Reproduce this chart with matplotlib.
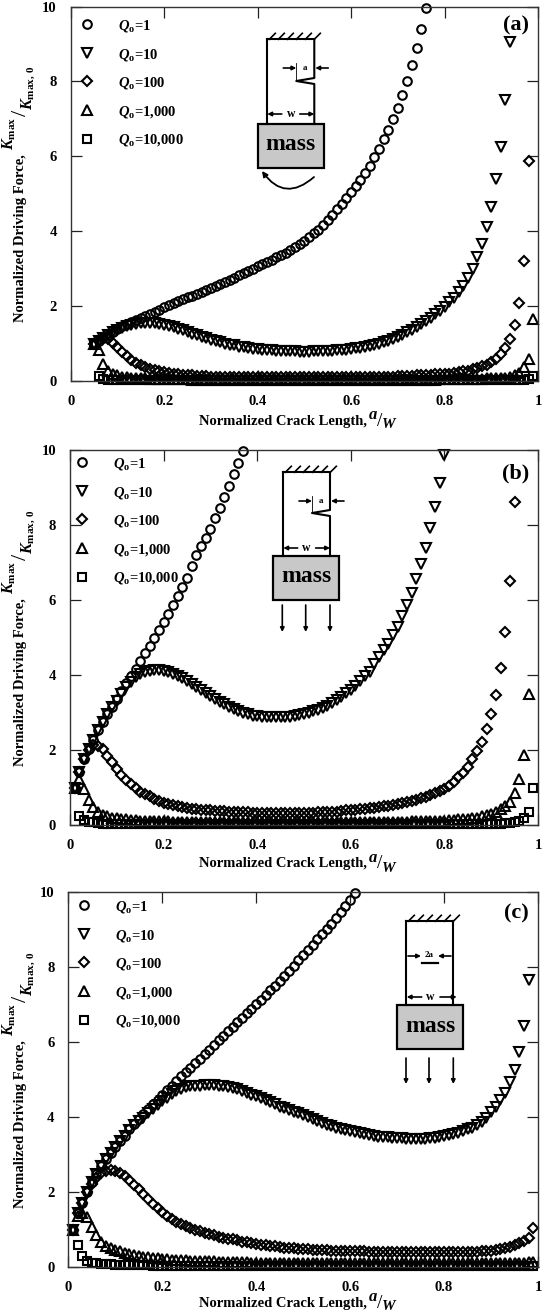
import matplotlib
matplotlib.use("Agg")
import matplotlib.pyplot as plt
import matplotlib.patches as patches

plt.rcParams['font.family'] = ['Liberation Serif', 'DejaVu Serif']
plt.rcParams['font.weight'] = 'bold'
plt.rcParams['axes.labelweight'] = 'bold'
plt.rcParams['mathtext.fontset'] = 'custom'
plt.rcParams['mathtext.rm'] = 'Liberation Serif:bold'
plt.rcParams['mathtext.it'] = 'Liberation Serif:italic:bold'
plt.rcParams['mathtext.bf'] = 'Liberation Serif:bold'

W, H = 544, 1316

crack_x = [0.01, 0.02, 0.03, 0.04, 0.05, 0.06, 0.07, 0.08, 0.09,
           0.10, 0.11, 0.12, 0.13, 0.14, 0.15, 0.16, 0.17, 0.18, 0.19,
           0.20, 0.21, 0.22, 0.23, 0.24, 0.25, 0.26, 0.27, 0.28, 0.29,
           0.30, 0.31, 0.32, 0.33, 0.34, 0.35, 0.36, 0.37, 0.38, 0.39,
           0.40, 0.41, 0.42, 0.43, 0.44, 0.45, 0.46, 0.47, 0.48, 0.49,
           0.50, 0.51, 0.52, 0.53, 0.54, 0.55, 0.56, 0.57, 0.58, 0.59,
           0.60, 0.61, 0.62, 0.63, 0.64, 0.65, 0.66, 0.67, 0.68, 0.69,
           0.70, 0.71, 0.72, 0.73, 0.74, 0.75, 0.76, 0.77, 0.78, 0.79,
           0.80, 0.81, 0.82, 0.83, 0.84, 0.85, 0.86, 0.87, 0.88, 0.89,
           0.90, 0.91, 0.92, 0.93, 0.94, 0.95, 0.96, 0.97, 0.98, 0.99]

q_labels = ['1', '10', '100', '1,000', '10,000']

# panel a starts at a/W = 0.05, lines below run per decade of a/W
a_q1 = [1.00, 1.08, 1.16, 1.24, 1.32,
        1.40, 1.46, 1.52, 1.58, 1.63, 1.69, 1.74, 1.79, 1.84, 1.90,
        1.97, 2.03, 2.08, 2.13, 2.18, 2.23, 2.28, 2.33, 2.38, 2.43,
        2.49, 2.54, 2.59, 2.64, 2.70, 2.76, 2.82, 2.88, 2.94, 3.00,
        3.06, 3.12, 3.18, 3.24, 3.30, 3.36, 3.43, 3.50, 3.58, 3.66,
        3.75, 3.84, 3.94, 4.04, 4.16, 4.30, 4.44, 4.58, 4.73, 4.89,
        5.05, 5.22, 5.38, 5.55, 5.75, 5.97, 6.20, 6.45, 6.70, 7.00,
        7.30, 7.65, 8.00, 8.45, 8.90, 9.40, 9.95]
a_q10 = [1.00, 1.08, 1.16, 1.23, 1.30,
         1.36, 1.41, 1.46, 1.50, 1.53, 1.55, 1.56, 1.56, 1.55, 1.53,
         1.50, 1.47, 1.43, 1.39, 1.35, 1.30, 1.26, 1.22, 1.18, 1.14,
         1.10, 1.07, 1.03, 1.00, 0.97, 0.95, 0.92, 0.90, 0.88, 0.86,
         0.85, 0.84, 0.83, 0.82, 0.81, 0.80, 0.80, 0.79, 0.79, 0.78,
         0.78, 0.78, 0.79, 0.79, 0.80, 0.80, 0.81, 0.82, 0.83, 0.84,
         0.85, 0.87, 0.89, 0.91, 0.94, 0.97, 1.00, 1.04, 1.08, 1.13,
         1.18, 1.24, 1.30, 1.37, 1.44, 1.52, 1.60, 1.68, 1.78, 1.88,
         1.98, 2.10, 2.22, 2.38, 2.55, 2.75, 3.00, 3.30, 3.65, 4.10,
         4.65, 5.40, 6.25, 7.50, 9.05]
a_q100 = [1.00, 1.08, 1.14, 1.12, 1.02,
          0.90, 0.77, 0.66, 0.57, 0.49, 0.43, 0.38, 0.33, 0.30, 0.27,
          0.24, 0.22, 0.20, 0.18, 0.17, 0.16, 0.15, 0.14, 0.13, 0.125,
          0.12, 0.12, 0.11, 0.11, 0.11, 0.10, 0.10, 0.10, 0.10, 0.10,
          0.10, 0.10, 0.10, 0.10, 0.10, 0.10, 0.10, 0.10, 0.10, 0.10,
          0.10, 0.10, 0.10, 0.10, 0.10, 0.10, 0.10, 0.10, 0.10, 0.10,
          0.10, 0.10, 0.10, 0.11, 0.11, 0.11, 0.11, 0.12, 0.12, 0.12,
          0.13, 0.13, 0.14, 0.14, 0.15, 0.16, 0.16, 0.17, 0.18, 0.18,
          0.19, 0.20, 0.22, 0.24, 0.26, 0.28, 0.31, 0.35, 0.39, 0.44,
          0.50, 0.60, 0.72, 0.87, 1.12, 1.49, 2.07, 3.20, 5.87]
a_q1000 = [1.00, 0.82, 0.45, 0.28, 0.20,
           0.15, 0.12, 0.10, 0.09, 0.08, 0.07, 0.07, 0.06, 0.06, 0.06,
           0.05, 0.05, 0.05, 0.05, 0.05, 0.05, 0.04, 0.04, 0.04, 0.04,
           0.04, 0.04, 0.04, 0.04, 0.04, 0.04, 0.04, 0.04, 0.04, 0.04,
           0.04, 0.04, 0.04, 0.04, 0.04, 0.04, 0.04, 0.04, 0.04, 0.04,
           0.04, 0.04, 0.04, 0.04, 0.04, 0.04, 0.04, 0.04, 0.04, 0.04,
           0.04, 0.04, 0.04, 0.04, 0.04, 0.04, 0.04, 0.04, 0.04, 0.04,
           0.04, 0.04, 0.04, 0.04, 0.04, 0.04, 0.04, 0.04, 0.04, 0.05,
           0.05, 0.05, 0.05, 0.05, 0.05, 0.05, 0.06, 0.06, 0.06, 0.07,
           0.07, 0.07, 0.08, 0.09, 0.11, 0.15, 0.22, 0.38, 0.60, 1.65]
a_q10000 = [1.00, 0.13, 0.05, 0.04, 0.03,
            0.03, 0.03, 0.02, 0.02, 0.02, 0.02, 0.02, 0.02, 0.02, 0.02,
            0.02, 0.02, 0.02, 0.02, 0.02, 0.02, 0.02, 0.02, 0.02, 0.02,
            0.02, 0.02, 0.02, 0.02, 0.02, 0.02, 0.02, 0.02, 0.02, 0.02,
            0.02, 0.02, 0.02, 0.02, 0.02, 0.02, 0.02, 0.02, 0.02, 0.02,
            0.02, 0.02, 0.02, 0.02, 0.02, 0.02, 0.02, 0.02, 0.02, 0.02,
            0.02, 0.02, 0.02, 0.02, 0.02, 0.02, 0.02, 0.02, 0.02, 0.02,
            0.02, 0.02, 0.02, 0.02, 0.02, 0.02, 0.02, 0.02, 0.02, 0.02,
            0.02, 0.02, 0.02, 0.02, 0.02, 0.02, 0.02, 0.02, 0.02, 0.02,
            0.02, 0.02, 0.02, 0.02, 0.02, 0.03, 0.03, 0.04, 0.06, 0.13]

# panels b and c start at a/W = 0.01
b_q1 = [1.00, 1.42, 1.75, 2.04, 2.28, 2.53, 2.75, 2.96, 3.16,
        3.37, 3.58, 3.78, 3.97, 4.16, 4.37, 4.58, 4.77, 5.00, 5.20,
        5.41, 5.63, 5.86, 6.10, 6.35, 6.60, 6.90, 7.20, 7.45, 7.65,
        7.90, 8.20, 8.45, 8.75, 9.05, 9.35, 9.65, 9.98]
b_q10 = [1.00, 1.42, 1.75, 2.04, 2.28, 2.53, 2.75, 2.96, 3.16,
         3.32, 3.50, 3.68, 3.82, 3.94, 4.03, 4.08, 4.11, 4.13, 4.13,
         4.12, 4.08, 4.04, 3.98, 3.91, 3.84, 3.76, 3.68, 3.60, 3.52,
         3.44, 3.36, 3.29, 3.22, 3.15, 3.09, 3.04, 2.99, 2.95, 2.92,
         2.90, 2.88, 2.87, 2.87, 2.87, 2.87, 2.88, 2.89, 2.91, 2.93,
         2.96, 2.99, 3.03, 3.07, 3.12, 3.17, 3.25, 3.33, 3.42, 3.51,
         3.60, 3.72, 3.85, 3.97, 4.09, 4.29, 4.49, 4.66, 4.84, 5.07,
         5.29, 5.57, 5.87, 6.18, 6.55, 6.95, 7.40, 7.91, 8.49, 9.13,
         9.87]
b_q100 = [1.00, 1.42, 1.75, 2.00, 2.13, 2.10, 2.03, 1.84, 1.67,
          1.49, 1.33, 1.20, 1.09, 0.98, 0.89, 0.83, 0.77, 0.70, 0.64,
          0.60, 0.56, 0.53, 0.50, 0.48, 0.45, 0.44, 0.42, 0.41, 0.40,
          0.39, 0.38, 0.37, 0.37, 0.36, 0.35, 0.35, 0.34, 0.34, 0.33,
          0.33, 0.33, 0.33, 0.33, 0.33, 0.33, 0.33, 0.33, 0.33, 0.33,
          0.33, 0.33, 0.33, 0.34, 0.34, 0.34, 0.35, 0.36, 0.37, 0.39,
          0.40, 0.41, 0.42, 0.43, 0.45, 0.46, 0.48, 0.50, 0.52, 0.54,
          0.57, 0.59, 0.62, 0.65, 0.68, 0.72, 0.76, 0.81, 0.86, 0.91,
          0.96, 1.03, 1.16, 1.27, 1.38, 1.55, 1.75, 1.97, 2.22, 2.55,
          2.96, 3.48, 4.18, 5.15, 6.51, 8.62]
b_q1000 = [1.00, 1.24, 0.96, 0.67, 0.47, 0.35, 0.28, 0.23, 0.20,
           0.18, 0.16, 0.15, 0.14, 0.13, 0.12, 0.12, 0.11, 0.11, 0.10,
           0.10, 0.10, 0.09, 0.09, 0.09, 0.09, 0.09, 0.08, 0.08, 0.08,
           0.08, 0.08, 0.08, 0.08, 0.08, 0.08, 0.08, 0.08, 0.08, 0.08,
           0.08, 0.08, 0.08, 0.08, 0.08, 0.08, 0.08, 0.08, 0.08, 0.08,
           0.08, 0.08, 0.08, 0.08, 0.08, 0.08, 0.08, 0.08, 0.08, 0.08,
           0.08, 0.08, 0.08, 0.08, 0.08, 0.09, 0.09, 0.09, 0.09, 0.09,
           0.09, 0.09, 0.09, 0.10, 0.10, 0.10, 0.10, 0.11, 0.11, 0.12,
           0.12, 0.13, 0.14, 0.15, 0.16, 0.17, 0.18, 0.20, 0.23, 0.26,
           0.30, 0.36, 0.42, 0.50, 0.62, 0.86, 1.24, 1.88, 3.49]
b_q10000 = [1.00, 0.24, 0.13, 0.09, 0.07, 0.05, 0.04, 0.04, 0.03,
            0.03, 0.03, 0.03, 0.03, 0.03, 0.03, 0.03, 0.03, 0.03, 0.03,
            0.03, 0.03, 0.03, 0.03, 0.03, 0.03, 0.03, 0.03, 0.03, 0.03,
            0.03, 0.03, 0.03, 0.03, 0.03, 0.03, 0.03, 0.03, 0.03, 0.03,
            0.03, 0.03, 0.03, 0.03, 0.03, 0.03, 0.03, 0.03, 0.03, 0.03,
            0.03, 0.03, 0.03, 0.03, 0.03, 0.03, 0.03, 0.03, 0.03, 0.03,
            0.03, 0.03, 0.03, 0.03, 0.03, 0.03, 0.03, 0.03, 0.03, 0.03,
            0.03, 0.03, 0.03, 0.03, 0.03, 0.03, 0.03, 0.03, 0.03, 0.03,
            0.03, 0.03, 0.03, 0.03, 0.03, 0.03, 0.03, 0.03, 0.03, 0.03,
            0.04, 0.04, 0.04, 0.05, 0.06, 0.07, 0.12, 0.20, 0.35, 1.00]

c_q1 = [1.00, 1.43, 1.72, 2.00, 2.26, 2.47, 2.69, 2.87, 3.03,
        3.21, 3.36, 3.50, 3.67, 3.81, 3.94, 4.08, 4.21, 4.35, 4.45,
        4.59, 4.72, 4.83, 4.97, 5.10, 5.21, 5.32, 5.43, 5.55, 5.68,
        5.80, 5.92, 6.05, 6.17, 6.29, 6.41, 6.53, 6.65, 6.77, 6.89,
        7.01, 7.13, 7.25, 7.38, 7.50, 7.63, 7.76, 7.90, 8.04, 8.18,
        8.32, 8.46, 8.60, 8.74, 8.88, 9.02, 9.16, 9.31, 9.47, 9.63,
        9.79, 9.97]
c_q10 = [1.00, 1.43, 1.72, 2.00, 2.26, 2.47, 2.69, 2.87, 3.03,
         3.21, 3.36, 3.50, 3.65, 3.78, 3.89, 3.98, 4.10, 4.22, 4.33,
         4.43, 4.52, 4.62, 4.70, 4.76, 4.79, 4.82, 4.83, 4.84, 4.85,
         4.85, 4.85, 4.84, 4.83, 4.81, 4.78, 4.74, 4.70, 4.65, 4.60,
         4.56, 4.50, 4.45, 4.39, 4.34, 4.28, 4.23, 4.18, 4.14, 4.10,
         4.05, 4.00, 3.95, 3.90, 3.85, 3.80, 3.76, 3.72, 3.68, 3.65,
         3.63, 3.60, 3.57, 3.54, 3.52, 3.50, 3.48, 3.47, 3.46, 3.45,
         3.43, 3.43, 3.42, 3.42, 3.41, 3.42, 3.42, 3.44, 3.45, 3.47,
         3.50, 3.52, 3.54, 3.58, 3.62, 3.67, 3.72, 3.78, 3.88, 3.98,
         4.14, 4.27, 4.45, 4.65, 4.93, 5.25, 5.73, 6.43, 7.65]
c_q100 = [1.00, 1.43, 1.72, 2.00, 2.22, 2.38, 2.50, 2.56, 2.60,
          2.57, 2.50, 2.42, 2.32, 2.20, 2.08, 1.95, 1.81, 1.69, 1.57,
          1.47, 1.37, 1.29, 1.21, 1.15, 1.09, 1.03, 0.99, 0.96, 0.92,
          0.88, 0.85, 0.81, 0.78, 0.76, 0.74, 0.71, 0.68, 0.66, 0.64,
          0.61, 0.59, 0.58, 0.56, 0.55, 0.53, 0.52, 0.51, 0.50, 0.48,
          0.47, 0.47, 0.46, 0.46, 0.45, 0.45, 0.44, 0.44, 0.44, 0.43,
          0.43, 0.42, 0.42, 0.42, 0.41, 0.41, 0.41, 0.40, 0.40, 0.40,
          0.39, 0.39, 0.39, 0.39, 0.39, 0.39, 0.40, 0.40, 0.40, 0.40,
          0.40, 0.40, 0.40, 0.40, 0.40, 0.41, 0.41, 0.41, 0.42, 0.43,
          0.44, 0.45, 0.47, 0.50, 0.53, 0.58, 0.63, 0.70, 0.78, 1.05]
c_q1000 = [1.00, 1.37, 1.43, 1.33, 1.07, 0.85, 0.67, 0.57, 0.50,
           0.46, 0.42, 0.37, 0.34, 0.32, 0.30, 0.28, 0.26, 0.25, 0.23,
           0.22, 0.21, 0.20, 0.19, 0.18, 0.18, 0.17, 0.17, 0.16, 0.16,
           0.15, 0.15, 0.14, 0.14, 0.14, 0.13, 0.13, 0.13, 0.13, 0.12,
           0.12, 0.12, 0.12, 0.12, 0.12, 0.11, 0.11, 0.11, 0.11, 0.11,
           0.11, 0.11, 0.11, 0.11, 0.11, 0.11, 0.11, 0.11, 0.11, 0.11,
           0.11, 0.11, 0.11, 0.11, 0.11, 0.11, 0.11, 0.11, 0.11, 0.11,
           0.11, 0.11, 0.11, 0.11, 0.11, 0.11, 0.11, 0.11, 0.11, 0.11,
           0.11, 0.11, 0.11, 0.11, 0.11, 0.11, 0.11, 0.11, 0.11, 0.11,
           0.11, 0.11, 0.11, 0.11, 0.11, 0.11, 0.12, 0.12, 0.13, 0.14]
c_q10000 = [1.00, 0.59, 0.29, 0.17, 0.12, 0.10, 0.08, 0.07, 0.07,
            0.06, 0.06, 0.06, 0.05, 0.05, 0.05, 0.05, 0.05, 0.04, 0.04,
            0.04, 0.04, 0.04, 0.04, 0.04, 0.04, 0.04, 0.03, 0.03, 0.03,
            0.03, 0.03, 0.03, 0.03, 0.03, 0.03, 0.03, 0.03, 0.03, 0.03,
            0.03, 0.03, 0.03, 0.03, 0.03, 0.03, 0.03, 0.03, 0.03, 0.03,
            0.03, 0.03, 0.03, 0.03, 0.03, 0.03, 0.03, 0.03, 0.03, 0.03,
            0.03, 0.03, 0.03, 0.03, 0.03, 0.03, 0.03, 0.03, 0.03, 0.03,
            0.03, 0.03, 0.03, 0.03, 0.03, 0.03, 0.03, 0.03, 0.03, 0.03,
            0.03, 0.03, 0.03, 0.03, 0.03, 0.03, 0.03, 0.03, 0.03, 0.03,
            0.03, 0.03, 0.03, 0.03, 0.03, 0.03, 0.03, 0.03, 0.03, 0.03]

markers = ['o', 'v', 'D', '^', 's']
sizes = [6.2, 6.8, 5.0, 6.8, 5.8]


def draw_panel(fig, box, x, series, tag, tag_xy, legend_xy, xlabel_y):
    """ Draws one panel from its series, box is left, right, top, bottom in pixels. """
    left, right, top, bottom = box
    ax = fig.add_axes([left / W, 1 - bottom / H, (right - left) / W, (bottom - top) / H])
    for y, m, s, q in zip(series, markers, sizes, q_labels):
        ax.plot(x[:len(y)], y, ls='none', marker=m, ms=s, mfc='none', mec='black',
                mew=1.5, clip_on=False, label=r'$\mathit{Q}_{\mathrm{o}}$=' + q)
    ax.set_xlim(0, 1)
    ax.set_ylim(0, 10)
    ax.set_xticks([0, 0.2, 0.4, 0.6, 0.8, 1])
    ax.set_xticklabels(['0', '0.2', '0.4', '0.6', '0.8', '1'])
    ax.set_yticks([0, 2, 4, 6, 8, 10])
    ax.tick_params(direction='in', length=8, width=0.9, top=True, right=True, color='#222222',
                   labelsize=10.5, pad=10)
    for s in ax.spines.values():
        s.set_linewidth(1.0)
        s.set_color('#333333')
    ax.set_xlabel('Normalized Crack Length,', fontsize=10.5, va='center')
    ax.xaxis.set_label_coords((283 - left) / (right - left), -(xlabel_y - bottom) / (bottom - top))
    ax.legend(loc='upper left', bbox_to_anchor=(legend_xy[0] / W, 1 - legend_xy[1] / H),
              bbox_transform=fig.transFigure, frameon=False, fontsize=10.5, numpoints=1,
              handlelength=1, handletextpad=1.6, labelspacing=0.86, borderpad=0, borderaxespad=0)
    fig.text(tag_xy[0] / W, 1 - tag_xy[1] / H, tag, fontsize=16, ha='center', va='center')


def draw_ylabel(over, dy):
    over.text(21, 238 + dy, 'Normalized Driving Force,', rotation=90, fontsize=10.5,
              ha='center', va='center')
    over.text(9, 133 + dy, r'$\mathit{K}_{\mathrm{max}}$', rotation=90, fontsize=11.5,
              ha='center', va='center')
    over.text(21, 113 + dy, '/', rotation=90, fontsize=16, fontweight='normal',
              ha='center', va='center')
    over.text(28, 88 + dy, r'$\mathit{K}_{\mathrm{max,\,0}}$', rotation=90, fontsize=11.5,
              ha='center', va='center')


def draw_ratio(over, x0, y0):
    """ The a/W part of the x label, stacked like the y label. """
    over.text(x0 + 1, y0 - 6, 'a', fontsize=12, style='italic', ha='center', va='center')
    over.text(x0 + 8, y0, '/', fontsize=14, fontweight='normal', ha='center', va='center')
    over.text(x0 + 17, y0 + 4, 'W', fontsize=11, style='italic', ha='center', va='center')


def arrow(over, p0, p1, lw=1.2, style='-|>', scale=6):
    over.add_patch(patches.FancyArrowPatch(p0, p1, arrowstyle=style, mutation_scale=scale,
                                           lw=lw, color='black', shrinkA=0, shrinkB=0))


def specimen(over, l, r, top, bottom, box_l, box_r, box_b):
    """ Common part of the sketches: clamped column and the mass block. """
    over.plot([l, r], [top, top], color='black', lw=1.5)
    for hx in [l + 2, l + 11, l + 20, l + 29, l + 38, l + 47]:
        over.plot([hx, hx + 6], [top, top - 6], color='black', lw=1.2)
    over.plot([l, l], [top, bottom], color='black', lw=1.5)
    over.add_patch(patches.Rectangle((box_l, bottom), box_r - box_l, box_b - bottom,
                                     fc='#c8c8c8', ec='black', lw=1.6))
    over.text((box_l + box_r) / 2, (bottom + box_b) / 2 - 1, 'mass', fontsize=17, ha='center', va='center')


def edge_notch(over, l, r, top, bottom, y0, y1, y2, ya, yw):
    over.plot([r, r, r - 18, r, r], [top, y0, y1, y2, bottom], color='black', lw=1.5)
    over.plot([r - 18, r - 18], [ya - 5, y1], color='black', lw=0.6)
    over.text(r - 9, ya, 'a', fontsize=6.5, ha='center', va='center')
    arrow(over, (r - 31, ya), (r - 18, ya))
    arrow(over, (r + 14, ya), (r + 1, ya))
    over.text((l + r) / 2, yw, 'w', fontsize=8.5, ha='center', va='center')
    arrow(over, ((l + r) / 2 - 9, yw), (l, yw))
    arrow(over, ((l + r) / 2 + 9, yw), (r, yw))


fig = plt.figure(figsize=(W / 100, H / 100), dpi=100)

draw_panel(fig, (70.7, 538, 6.5, 381), crack_x[4:], [a_q1, a_q10, a_q100, a_q1000, a_q10000],
           '(a)', (516, 25), (80, 18), 421)
draw_panel(fig, (70, 538, 450, 825), crack_x, [b_q1, b_q10, b_q100, b_q1000, b_q10000],
           '(b)', (516, 473), (75, 456), 864)
draw_panel(fig, (68.3, 538, 892, 1267), crack_x, [c_q1, c_q10, c_q100, c_q1000, c_q10000],
           '(c)', (516, 913), (77, 899), 1304)

# pixel overlay for the sketches and the stacked labels
over = fig.add_axes([0, 0, 1, 1], facecolor='none')
over.set_xlim(0, W)
over.set_ylim(H, 0)
over.axis('off')

for dy in [0, 444, 886]:
    draw_ylabel(over, dy)
for ry in [421, 864, 1303]:
    draw_ratio(over, 372, ry)

# sketch a, bending
specimen(over, 267.3, 314.3, 39.3, 124, 257.7, 323.7, 167.7)
edge_notch(over, 267.3, 314.3, 39.3, 124, 78, 81, 84, 68, 114)
over.add_patch(patches.FancyArrowPatch((314, 177), (262, 171), connectionstyle='arc3,rad=-0.55',
                                       arrowstyle='-|>', mutation_scale=8, lw=1.3, color='black',
                                       shrinkA=0, shrinkB=0))

# sketch b, tension with edge crack
specimen(over, 283.3, 330, 472.3, 556, 273.3, 339.3, 600)
edge_notch(over, 283.3, 330, 472.3, 556, 510, 513, 516, 501, 548)
for ax_x in [282.3, 305.7, 330]:
    arrow(over, (ax_x, 605), (ax_x, 632))

# sketch c, tension with centre crack
specimen(over, 406.3, 453.3, 921.3, 1005, 397.3, 463, 1049.3)
over.plot([453.3, 453.3], [921.3, 1005], color='black', lw=1.5)
over.plot([421.7, 438.3], [963.3, 963.3], color='black', lw=1.6)
over.text(429.3, 955, '2a', fontsize=6.5, ha='center', va='center')
arrow(over, (408, 956), (421, 956))
arrow(over, (451, 956), (438, 956))
over.text(430.7, 997, 'w', fontsize=8.5, ha='center', va='center')
arrow(over, (421.7, 997), (406.7, 997))
arrow(over, (440, 997), (456.7, 997))
for ax_x in [406, 429, 453.3]:
    arrow(over, (ax_x, 1058), (ax_x, 1084))

fig.savefig('out.png', dpi=100)
